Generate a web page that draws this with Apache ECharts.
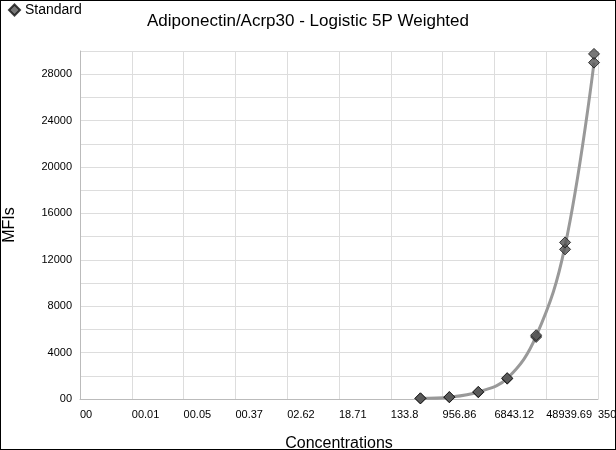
<!DOCTYPE html>
<html><head><meta charset="utf-8">
<script src="https://cdn.jsdelivr.net/npm/echarts@6/dist/echarts.min.js"></script>
<style>html,body{margin:0;padding:0;background:#fff;overflow:hidden}#c{width:614px;height:448px;border:1px solid #000}</style>
</head><body><div id="c"></div>
<script>
const tickLabels = ['00','00.01','00.05','00.37','02.62','18.71','133.8','956.86','6843.12','48939.69','350000'];
const concentrations = [411.5,411.5,1234.6,1234.6,3703.7,3703.7,11111,11111,33333,33333,100000,100000,300000,300000];
const mfis = [50,60,150,170,580,620,1750,1800,5350,5500,12900,13500,29000,29750];
const fitConc = [411.5,1234.6,3703.7,11111,33333,100000,300000];
const fitMfi = [60,160,600,1780,5420,13200,29000];
const base = 7.15, c0 = 0.001;
const toX = c => Math.log(c / c0) / Math.log(base);
const chart = echarts.init(document.getElementById('c'));
chart.setOption({
  animation:false,
  title:{text:'Adiponectin/Acrp30 - Logistic 5P Weighted',left:'center',top:7,textStyle:{fontFamily:'Liberation Sans',fontSize:17,fontWeight:'normal',color:'#000'}},
  legend:{left:2,top:-3,itemWidth:11,itemHeight:11,data:[{name:'Standard',icon:'diamond'}],textStyle:{fontFamily:'Liberation Sans',fontSize:14,color:'#000'}},
  grid:{left:79,right:17,top:50,bottom:50,outerBoundsMode:'none',containLabel:false},
  xAxis:{type:'value',min:0,max:10,interval:1,name:'Concentrations',nameLocation:'middle',nameGap:37,
    nameTextStyle:{fontFamily:'Liberation Sans',fontSize:16,color:'#000'},
    axisLine:{lineStyle:{color:'#bbb'}},axisTick:{show:false},
    splitLine:{lineStyle:{color:'#ddd'}},
    axisLabel:{fontFamily:'Liberation Sans',fontSize:11,color:'#000',align:'left',margin:10,hideOverlap:false,showMaxLabel:true,formatter:v=>tickLabels[Math.round(v)]}},
  yAxis:{type:'value',min:0,max:30000,interval:2000,name:'MFIs',nameLocation:'middle',nameGap:62,
    nameTextStyle:{fontFamily:'Liberation Sans',fontSize:16,color:'#000'},
    axisLine:{show:true,lineStyle:{color:'#bbb'}},axisTick:{show:false},
    splitLine:{lineStyle:{color:'#ddd'}},
    axisLabel:{fontFamily:'Liberation Sans',fontSize:11,color:'#000',margin:8,formatter:v=>v===0?'00':(v%4000===0?String(v):'')}},
  series:[
    {type:'line',data:fitConc.map((c,i)=>[toX(c),fitMfi[i]]),smooth:0.4,showSymbol:false,lineStyle:{color:'#999',width:3},z:1},
    {name:'Standard',type:'scatter',symbol:'diamond',symbolSize:11,data:concentrations.map((c,i)=>[toX(c),mfis[i]]),itemStyle:{color:'#555',borderColor:'#111',borderWidth:1},z:2}
  ]
});
</script></body></html>
